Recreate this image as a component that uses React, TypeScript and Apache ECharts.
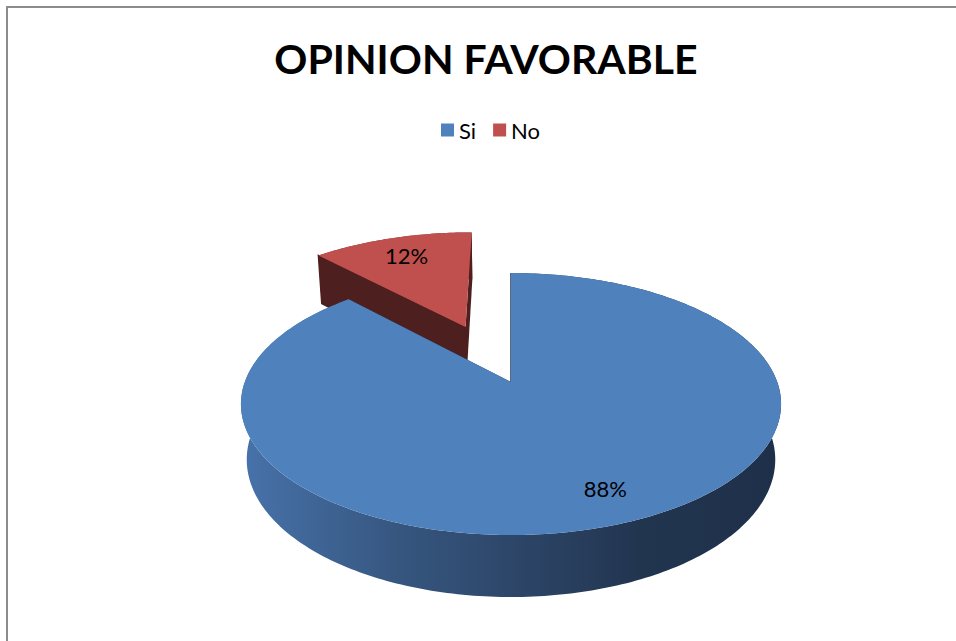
import React, { useEffect, useRef } from 'react';
import * as echarts from 'echarts';

// ---- data ----
const categories = ['Si', 'No'];
const values = [88, 12];
const labels = ['88%', '12%'];
const colors = ['#4F81BD', '#C0504D'];

// ---- 3D projection constants (style / geometry) ----
const CX = 511;
const CY = 382;
const FX = 1395;
const F = 1410;
const DIST = 5.24;
const SA = 0.473;
const CA = 0.881;
const DEPTH = 0.237;
const EXPLODE = [0, 0.5];
const LABEL_R = [0.79, 0.78];
const FONT = 'Lato, "Open Sans", sans-serif';

function proj(x: number, y: number, z: number): number[] {
  const yc = y * CA + z * SA;
  const zc = DIST + z * CA - y * SA;
  return [CX + (FX * x) / zc, CY - (F * yc) / zc];
}

function sliceAngles(i: number): number[] {
  const total = values.reduce((a, b) => a + b, 0);
  let start = 0;
  for (let k = 0; k < i; k++) start += (values[k] / total) * Math.PI * 2;
  const end = start + (values[i] / total) * Math.PI * 2;
  return [start, end];
}

const sideGradients = [
  {
    type: 'linear', x: 243, y: 0, x2: 781, y2: 0, global: true,
    colorStops: [
      { offset: 0, color: '#4772AA' },
      { offset: 0.29, color: '#36567F' },
      { offset: 0.52, color: '#2C4567' },
      { offset: 0.74, color: '#22354F' },
      { offset: 1, color: '#1E3049' },
    ],
  },
  {
    type: 'linear', x: 243, y: 0, x2: 781, y2: 0, global: true,
    colorStops: [
      { offset: 0, color: '#8A3533' },
      { offset: 1, color: '#4E1F1F' },
    ],
  },
];
const radialColors = ['#23395A', '#4E1F1F'];

function renderSlice(i: number) {
  const [a0, a1] = sliceAngles(i);
  const mid = (a0 + a1) / 2;
  const ox = EXPLODE[i] * Math.sin(mid);
  const oz = EXPLODE[i] * Math.cos(mid);
  const n = Math.max(2, Math.ceil((a1 - a0) / (Math.PI / 180)));
  const top: number[][] = [];
  const bot: number[][] = [];
  for (let k = 0; k <= n; k++) {
    const a = a0 + ((a1 - a0) * k) / n;
    const x = ox + Math.sin(a);
    const z = oz + Math.cos(a);
    top.push(proj(x, 0, z));
    bot.push(proj(x, -DEPTH, z));
  }
  const cTop = proj(ox, 0, oz);
  const cBot = proj(ox, -DEPTH, oz);
  const lr = LABEL_R[i];
  const lp = proj(ox + lr * Math.sin(mid), 0, oz + lr * Math.cos(mid));
  const children: any[] = [
    {
      type: 'polygon', z2: 1,
      shape: { points: top.concat(bot.slice().reverse()) },
      style: { fill: sideGradients[i] },
    },
    {
      type: 'polygon', z2: 2,
      shape: { points: [cTop, top[n], bot[n], cBot] },
      style: { fill: radialColors[i] },
    },
    {
      type: 'polygon', z2: 2,
      shape: { points: [cTop, top[0], bot[0], cBot] },
      style: { fill: radialColors[i], stroke: radialColors[i], lineWidth: 1.5 },
    },
    {
      type: 'polygon', z2: 3,
      shape: { points: [cTop].concat(top) },
      style: { fill: colors[i] },
    },
    {
      type: 'text', z2: 4, x: lp[0] + (i === 0 ? 6 : 0), y: lp[1],
      style: {
        text: labels[i], fill: '#000', fontSize: 22, fontFamily: FONT,
        align: 'center', verticalAlign: 'middle',
      },
    },
  ];
  return { type: 'group', children };
}

export default function App() {
  const ref = useRef<HTMLDivElement>(null);
  useEffect(() => {
    if (!ref.current) return;
    const chart = echarts.init(ref.current, null, { renderer: 'svg' });
    chart.setOption({
      animation: false,
      backgroundColor: '#ffffff',
      color: colors,
      title: {
        text: 'OPINION FAVORABLE',
        left: 481,
        top: 33,
        textAlign: 'center',
        textStyle: { fontSize: 41, fontWeight: 'bold', fontFamily: FONT, color: '#000' },
      },
      legend: {
        data: categories,
        left: 436,
        top: 114,
        icon: 'rect',
        itemWidth: 13,
        itemHeight: 13,
        itemGap: 17,
        textStyle: { fontSize: 22, fontFamily: FONT, color: '#000' },
      },
      graphic: [
        {
          type: 'rect',
          shape: { x: 7, y: 7, width: 1200, height: 1200 },
          style: { fill: 'none', stroke: '#8C8C8C', lineWidth: 2 },
          silent: true,
        },
      ],
      series: categories.map((name, i) => ({
        type: 'custom',
        name,
        coordinateSystem: 'none',
        z: i === 0 ? 3 : 2,
        silent: true,
        itemStyle: { color: colors[i] },
        data: [values[i]],
        renderItem: () => renderSlice(i),
      })),
    });
    return () => chart.dispose();
  }, []);
  return (
    <div
      ref={ref}
      style={{ position: 'fixed', left: 0, top: 0, width: 956, height: 641 }}
    />
  );
}
